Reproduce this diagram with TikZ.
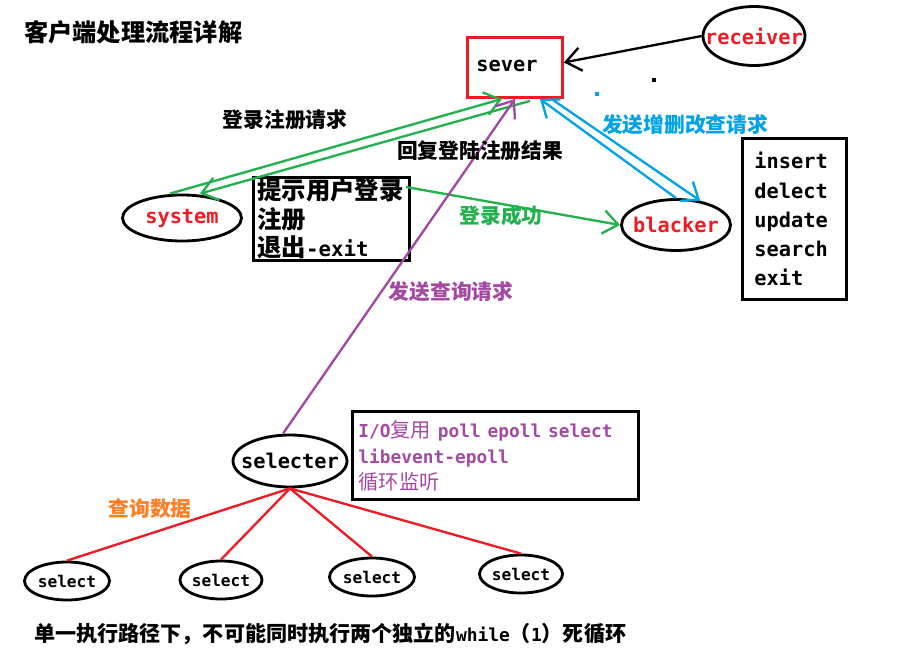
\documentclass[tikz,border=0pt]{standalone}
\usepackage{fontspec}
\setmainfont{Noto Sans CJK SC}
\newfontfamily\latf[Scale=0.85]{DejaVu Sans Mono}
\newfontfamily\latw[Scale=0.88]{DejaVu Sans Mono}
\usetikzlibrary{shapes.geometric,arrows.meta,calc}

\definecolor{pred}{HTML}{ED1C24}
\definecolor{pgreen}{HTML}{22B14C}
\definecolor{pblue}{HTML}{00A2E8}
\definecolor{ppurple}{HTML}{A349A4}
\definecolor{porange}{HTML}{FF7F27}

\newcommand{\entxt}[1]{{\latf\bfseries #1}}
\newcommand{\iotxt}[1]{{\latw\bfseries #1}}
\newcommand{\ctr}[1]{\makebox[0pt]{#1}}

\begin{document}
\begin{tikzpicture}[
  x=0.03cm, y=-0.03cm,
  >={Straight Barb[length=4.5mm,width=7mm]},
  every node/.style={align=left},
  ell/.style 2 args={draw, ellipse, line width=2.4pt, inner sep=0pt,
                     minimum width=#1*0.03cm, minimum height=#2*0.03cm,
                     font=\latf\bfseries\fontsize{20.4}{24}\selectfont},
  leaf/.style={ell={#1}{38}, font=\latf\bfseries\fontsize{16.2}{19}\selectfont},
  box/.style={draw, line width=2.5pt, inner ysep=0pt, anchor=north west},
  lbl/.style={inner sep=0pt, font=\fontsize{17.7}{20}\selectfont\bfseries},
  garr/.style={->, line width=2pt, pgreen},
  barr/.style={->, line width=2pt, pblue},
  parr/.style={->, line width=2pt, ppurple},
  rline/.style={line width=2pt, pred},
]
\useasboundingbox (0,0) rectangle (914,663);

% --- title ---
\node[lbl, anchor=west, font=\fontsize{20.7}{24}\selectfont\bfseries]
  (title) at (24,32) {客户端处理流程详解};

% --- server side ---
\node[box, draw=pred, minimum width=2.85cm, minimum height=1.8cm,
      inner xsep=0.27cm, text width=2.31cm,
      font=\latf\bfseries\fontsize{20.4}{24}\selectfont]
  (sever) at (466,36) {\raisebox{0.1cm}{sever}};
\node[ell={102}{59}, text=pred] (recv) at (754,36) {\ctr{receiver}};

% --- clients ---
\node[ell={119}{46}, text=pred] (sys) at (182,218) {\ctr{system}};
\node[box, minimum width=4.68cm, minimum height=2.49cm,
      inner xsep=0.12cm, text width=4.44cm,
      font=\fontsize{20.8}{24.3}\selectfont\bfseries]
  (prompt) at (252,176) {提示用户登录\\注册\\退出\entxt{-exit}};

\node[ell={109}{51}, text=pred] (blk) at (676,225) {\ctr{blacker}};
\node[box, minimum width=3.12cm, minimum height=4.83cm,
      inner xsep=0.36cm, text width=2.4cm,
      font=\latf\bfseries\fontsize{20.4}{24.8}\selectfont]
  (ops) at (741,137) {insert\\delect\\update\\search\\exit};

\node[ell={114}{52}] (sel) at (290,461) {\ctr{selecter}};
\node[box, minimum width=8.58cm, minimum height=2.64cm,
      inner xsep=0.18cm, text width=8.22cm, text=ppurple,
      font=\fontsize{17.3}{22.2}\selectfont]
  (io) at (351,410)
  {\iotxt{I/O}复用\iotxt{\ poll epoll select}\\\iotxt{libevent-epoll}\\循环监听};

% --- select workers ---
\node[leaf=85] (s1) at (67,581) {\ctr{select}};
\node[leaf=82] (s2) at (221,580) {\ctr{select}};
\node[leaf=85] (s3) at (372,577) {\ctr{select}};
\node[leaf=83] (s4) at (521,574) {\ctr{select}};

% --- connectors ---
\draw[->, line width=2pt] (recv.west) -- ($(sever.east)+(0,-5)$);

\draw[garr] ($(sys.north)+(-12,0)$) -- ($(sever.south)+(-13,0)$);
\draw[garr] ($(sever.south)+(15,2)$) -- ($(sys.north)+(18,0)$);
\draw[garr] ($(prompt.north east)+(-5,11)$) -- (blk.west);

\draw[barr] ($(sever.south east)+(-11,1)$) -- (blk.45);
\draw[barr] (blk.north) -- ($(sever.south east)+(-24,0)$);

\draw[parr] ($(sel.north)+(-7,0)$) -- (sever.south);

\draw[rline] (sel.south) -- (s1.north);
\draw[rline] (sel.south) -- (s2.north);
\draw[rline] (sel.south) -- (s3.north);
\draw[rline] (sel.south) -- (s4.north);

% --- labels ---
\node[lbl] (lreq) at (285,120) {登录注册请求};
\node[lbl] (lrep) at (480,151) {回复登陆注册结果};
\node[lbl, text=pblue] (lcrud) at (685,125) {发送增删改查请求};
\node[lbl, text=pgreen] (lok) at (501,216) {登录成功};
\node[lbl, text=ppurple] (lqry) at (451,292) {发送查询请求};
\node[lbl, text=porange] (ldata) at (150,509) {查询数据};
\node[lbl, anchor=west, font=\fontsize{18}{20}\selectfont\bfseries] (note) at (34,634)
  {单一执行路径下，不可能同时执行两个独立的\entxt{while}（\entxt{1}）死循环};

% stray specks
\fill (652,78) rectangle (656,82);
\fill[pblue] (595,92) rectangle (599,96);
\end{tikzpicture}
\end{document}
